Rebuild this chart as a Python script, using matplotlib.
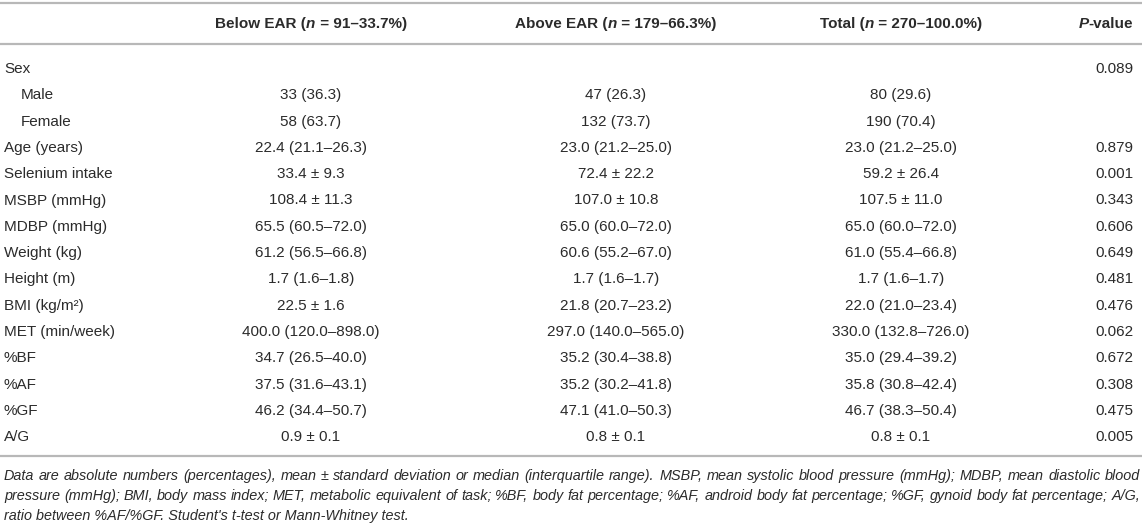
import matplotlib
matplotlib.use("Agg")
import matplotlib.pyplot as plt

W, H = 1144, 525

plt.rcParams['font.family'] = ['Liberation Sans', 'DejaVu Sans']

# table content
col_heads = [
    [("Below EAR (", "bold"), ("n", "bolditalic"), (" = 91–33.7%)", "bold")],
    [("Above EAR (", "bold"), ("n", "bolditalic"), (" = 179–66.3%)", "bold")],
    [("Total (", "bold"), ("n", "bolditalic"), (" = 270–100.0%)", "bold")],
    [("P", "bolditalic"), ("-value", "bold")],
]

row_labels = ["Sex", "Male", "Female", "Age (years)", "Selenium intake",
              "MSBP (mmHg)", "MDBP (mmHg)", "Weight (kg)", "Height (m)",
              "BMI (kg/m²)", "MET (min/week)", "%BF", "%AF", "%GF", "A/G"]
indented = ["Male", "Female"]

below_ear = ["", "33 (36.3)", "58 (63.7)", "22.4 (21.1–26.3)", "33.4 ± 9.3",
             "108.4 ± 11.3", "65.5 (60.5–72.0)", "61.2 (56.5–66.8)",
             "1.7 (1.6–1.8)", "22.5 ± 1.6", "400.0 (120.0–898.0)",
             "34.7 (26.5–40.0)", "37.5 (31.6–43.1)", "46.2 (34.4–50.7)",
             "0.9 ± 0.1"]
above_ear = ["", "47 (26.3)", "132 (73.7)", "23.0 (21.2–25.0)", "72.4 ± 22.2",
             "107.0 ± 10.8", "65.0 (60.0–72.0)", "60.6 (55.2–67.0)",
             "1.7 (1.6–1.7)", "21.8 (20.7–23.2)", "297.0 (140.0–565.0)",
             "35.2 (30.4–38.8)", "35.2 (30.2–41.8)", "47.1 (41.0–50.3)",
             "0.8 ± 0.1"]
total = ["", "80 (29.6)", "190 (70.4)", "23.0 (21.2–25.0)", "59.2 ± 26.4",
         "107.5 ± 11.0", "65.0 (60.0–72.0)", "61.0 (55.4–66.8)",
         "1.7 (1.6–1.7)", "22.0 (21.0–23.4)", "330.0 (132.8–726.0)",
         "35.0 (29.4–39.2)", "35.8 (30.8–42.4)", "46.7 (38.3–50.4)",
         "0.8 ± 0.1"]
p_values = ["0.089", "", "", "0.879", "0.001", "0.343", "0.606", "0.649",
            "0.481", "0.476", "0.062", "0.672", "0.308", "0.475", "0.005"]

footnote = [
    "Data are absolute numbers (percentages), mean ± standard deviation or median "
    "(interquartile range). MSBP, mean systolic blood pressure (mmHg); MDBP, mean diastolic blood",
    "pressure (mmHg); BMI, body mass index; MET, metabolic equivalent of task; %BF, body fat "
    "percentage; %AF, android body fat percentage; %GF, gynoid body fat percentage; A/G,",
    "ratio between %AF/%GF. Student's t-test or Mann-Whitney test.",
]

TXT = "#2b2b2b"
RULE = "#b8b8b8"
FS = 11

fig = plt.figure(figsize=(W / 100, H / 100), dpi=100)
ax = fig.add_axes([0, 0, 1, 1])
ax.set_xlim(0, W)
ax.set_ylim(H, 0)
ax.axis("off")
renderer = fig.canvas.get_renderer()

STYLES = {
    "normal": dict(weight="normal", style="normal"),
    "bold": dict(weight="bold", style="normal"),
    "bolditalic": dict(weight="bold", style="italic"),
    "italic": dict(weight="normal", style="italic"),
}


def text_width(s, **kw):
    t = ax.text(0, 0, s, fontsize=kw.get("fontsize", FS),
                **STYLES[kw.get("st", "normal")])
    w = t.get_window_extent(renderer).width
    t.remove()
    return w


def draw_runs(x, y, runs, ha="center"):
    widths = [text_width(s, st=st) for s, st in runs]
    total_w = sum(widths)
    if ha == "center":
        x0 = x - total_w / 2
    elif ha == "right":
        x0 = x - total_w
    else:
        x0 = x
    for (s, st), w in zip(runs, widths):
        ax.text(x0, y, s, fontsize=FS, color=TXT, va="center", ha="left",
                **STYLES[st])
        x0 += w


# horizontal rules
for yy in (3, 44, 456):
    ax.plot([0, 1142], [yy, yy], color=RULE, lw=1.6, solid_capstyle="butt")

# header
col_x = [311, 616, 901, 1133]
col_ha = ["center", "center", "center", "right"]
header_y = 24
for x, ha, runs in zip(col_x, col_ha, col_heads):
    draw_runs(x, header_y, runs, ha=ha)

# body rows
row_y0, row_step = 69, 26.3
for i, lab in enumerate(row_labels):
    y = row_y0 + i * row_step
    lx = 21 if lab in indented else 4
    ax.text(lx, y, lab, fontsize=FS, color=TXT, va="center", ha="left")
    for x, ha, col in zip(col_x, col_ha, (below_ear, above_ear, total, p_values)):
        if col[i]:
            ax.text(x, y, col[i], fontsize=FS, color=TXT, va="center", ha=ha)

# footnote (justified lines, last line ragged)
FN_FS = 10.4
fn_left, fn_right = 4, 1140
fn_y = [476, 496, 516]
for k, (line, y) in enumerate(zip(footnote, fn_y)):
    if k == len(footnote) - 1:
        ax.text(fn_left, y, line, fontsize=FN_FS, color=TXT, style="italic",
                va="center", ha="left")
        continue
    words = line.split(" ")
    ws = [text_width(w, st="italic", fontsize=FN_FS) for w in words]
    gap = (fn_right - fn_left - sum(ws)) / (len(words) - 1)
    x = fn_left
    for w, wd in zip(words, ws):
        ax.text(x, y, w, fontsize=FN_FS, color=TXT, style="italic",
                va="center", ha="left")
        x += wd + gap

fig.savefig("out.png", dpi=100)
